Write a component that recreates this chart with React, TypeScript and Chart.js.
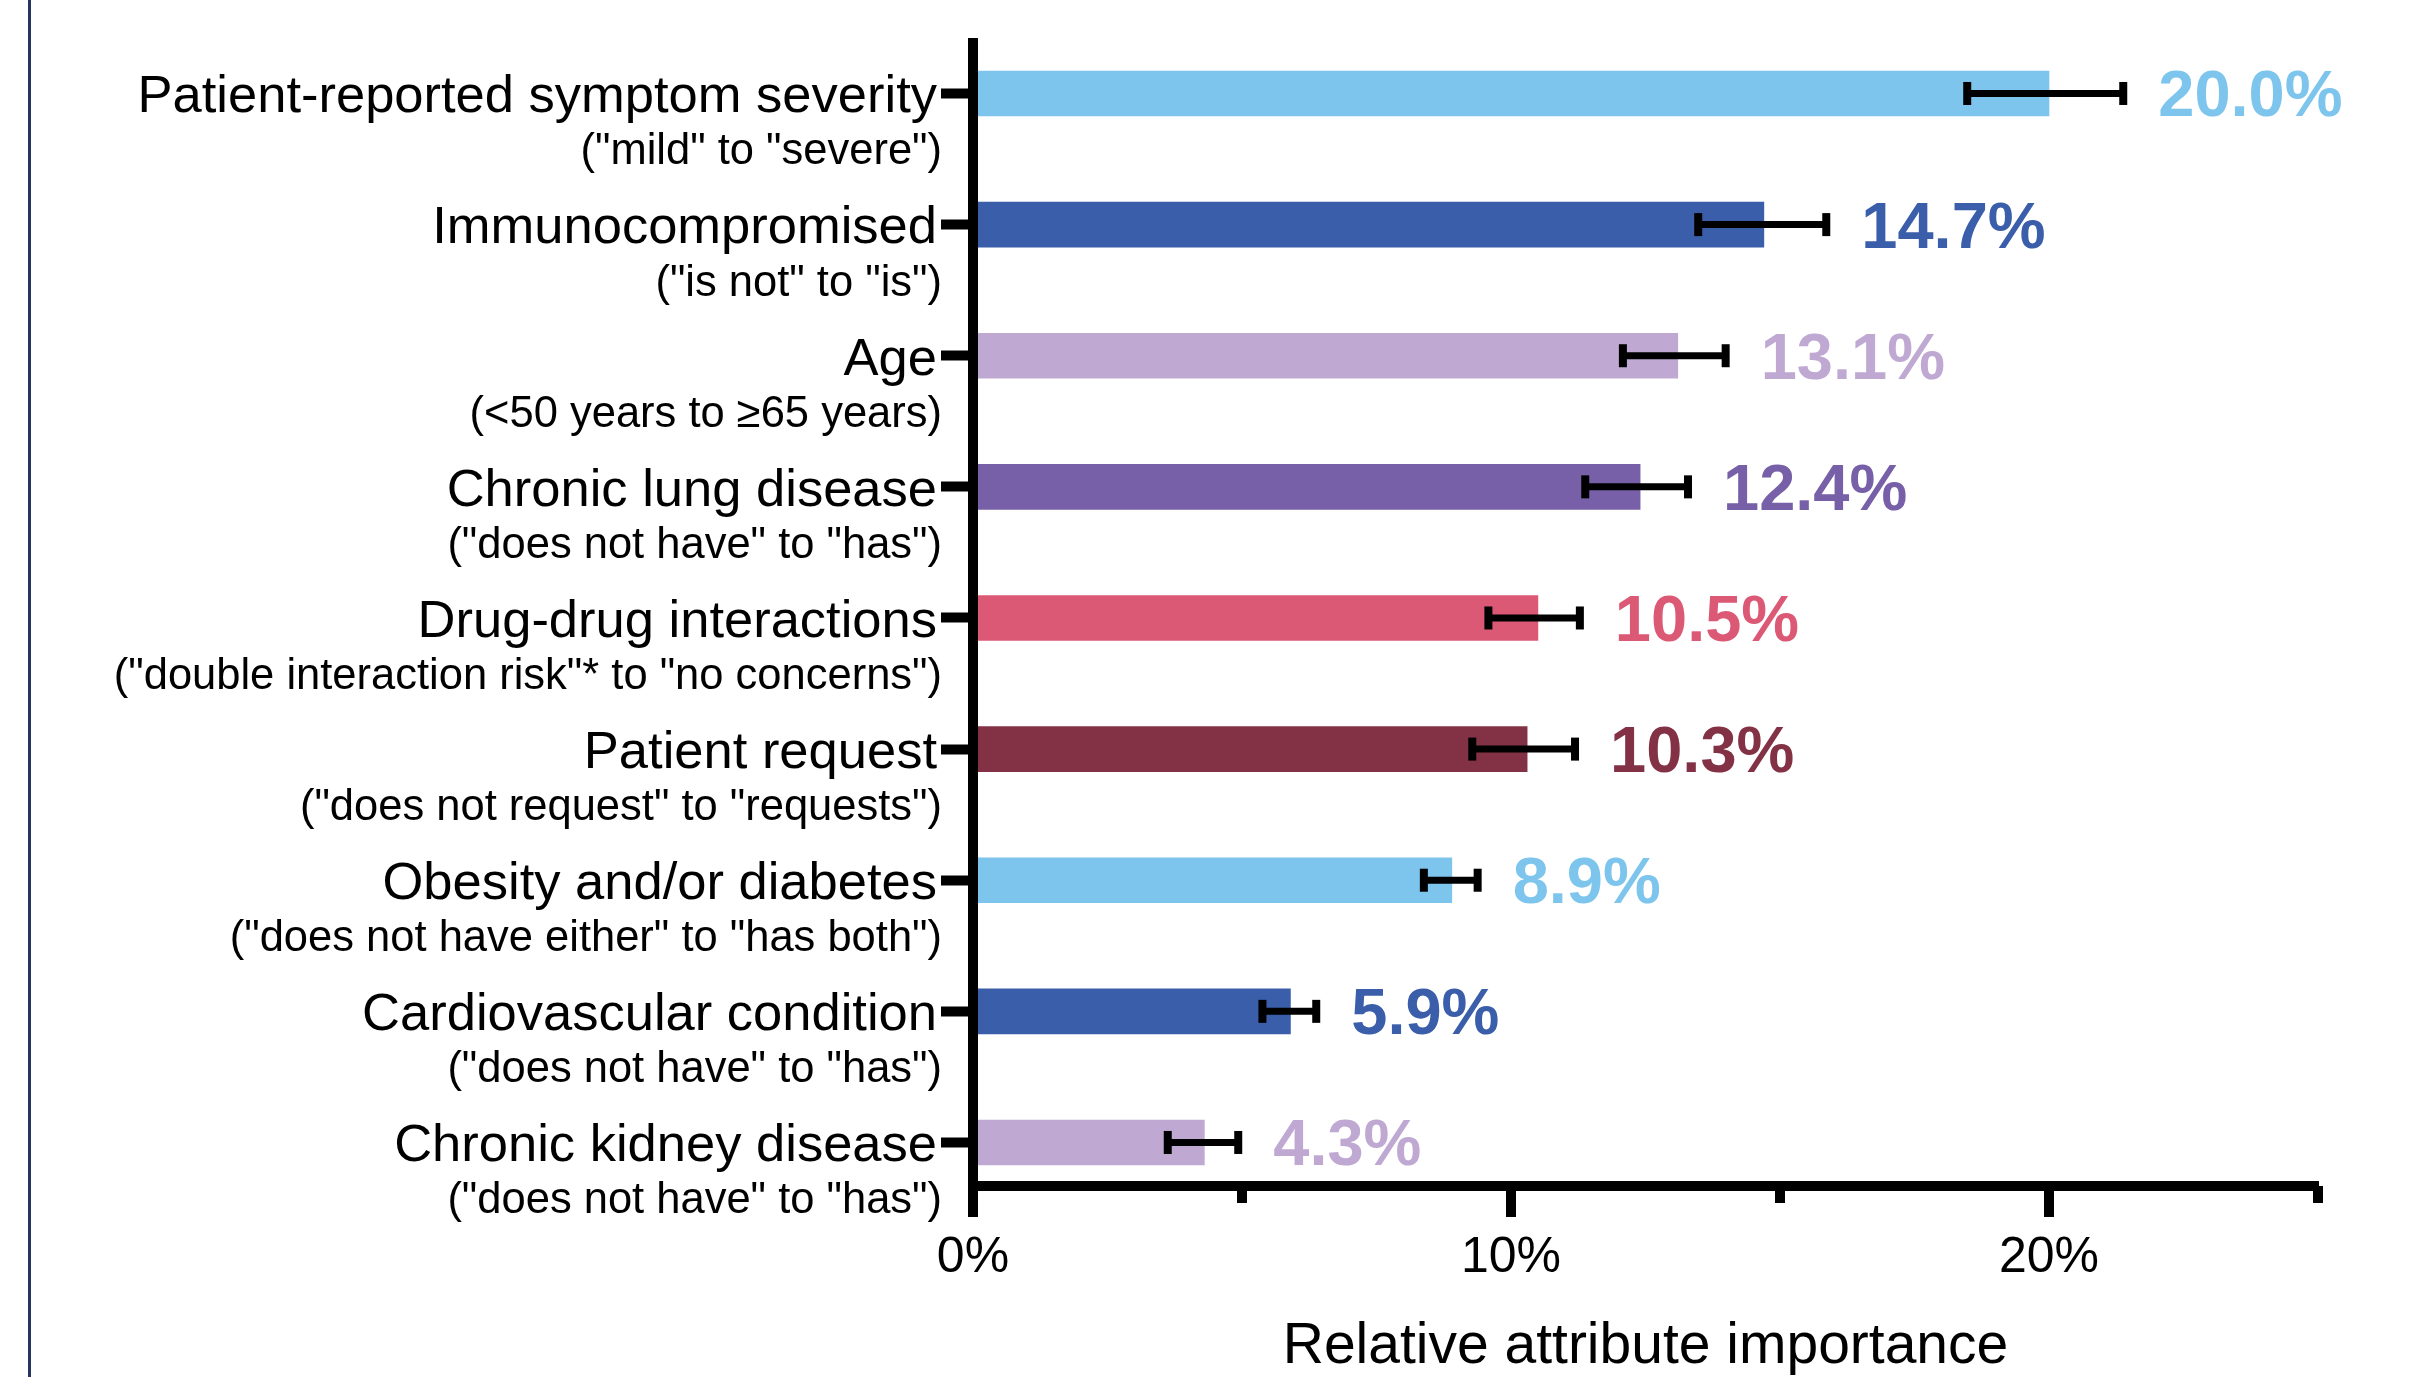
import React, { useEffect, useRef } from "react";
import { Chart, registerables } from "chart.js";

Chart.register(...registerables);

const categories = [
  "Patient-reported symptom severity",
  "Immunocompromised",
  "Age",
  "Chronic lung disease",
  "Drug-drug interactions",
  "Patient request",
  "Obesity and/or diabetes",
  "Cardiovascular condition",
  "Chronic kidney disease",
];

const subLabels = [
  '("mild" to "severe")',
  '("is not" to "is")',
  "(<50 years to \u226565 years)",
  '("does not have" to "has")',
  '("double interaction risk"* to "no concerns")',
  '("does not request" to "requests")',
  '("does not have either" to "has both")',
  '("does not have" to "has")',
  '("does not have" to "has")',
];

const values = [20.0, 14.7, 13.1, 12.4, 10.5, 10.3, 8.9, 5.9, 4.3];
const errLow = [18.48, 13.48, 12.08, 11.38, 9.58, 9.28, 8.38, 5.38, 3.62];
const errHigh = [21.38, 15.86, 13.99, 13.29, 11.28, 11.19, 9.38, 6.38, 4.93];

const barColors = [
  "#7DC5EC",
  "#3A5EA9",
  "#BFA9D3",
  "#7760A8",
  "#DC5976",
  "#833246",
  "#7DC5EC",
  "#3A5EA9",
  "#BFA9D3",
];

const xTickValues = [0, 5, 10, 15, 20, 25];
const X_MAX = 25;
const Y_MIN = -0.385;
const Y_MAX = 8.332;
const xTitle = "Relative attribute importance";

const FONT = '"Liberation Sans", Arial, Helvetica, sans-serif';

const overlayPlugin = {
  id: "overlay",
  afterDraw(chart: any) {
    const ctx = chart.ctx as CanvasRenderingContext2D;
    const xs = chart.scales.x;
    const ys = chart.scales.y;
    const area = chart.chartArea;
    ctx.save();

    // thin navy frame line at the far left
    ctx.fillStyle = "#26355F";
    ctx.fillRect(28, 0, 3, chart.height);

    // x-axis tick marks (major longer, minor shorter)
    ctx.fillStyle = "#000";
    xTickValues.forEach((v) => {
      const px = xs.getPixelForValue(v);
      const len = v % 10 === 0 ? 31 : 17;
      ctx.fillRect(px - 5, area.bottom, 10, len);
    });

    // error bars and value labels
    values.forEach((v, i) => {
      const y = ys.getPixelForValue(i);
      const x1 = xs.getPixelForValue(errLow[i]);
      const x2 = xs.getPixelForValue(errHigh[i]);
      ctx.strokeStyle = "#000";
      ctx.lineWidth = 7;
      ctx.beginPath();
      ctx.moveTo(x1, y);
      ctx.lineTo(x2, y);
      ctx.stroke();
      ctx.fillStyle = "#000";
      ctx.fillRect(x1 - 4, y - 11.5, 8, 23);
      ctx.fillRect(x2 - 4, y - 11.5, 8, 23);

      ctx.font = `bold 65px ${FONT}`;
      ctx.fillStyle = barColors[i];
      ctx.textAlign = "left";
      ctx.textBaseline = "alphabetic";
      ctx.fillText(v.toFixed(1) + "%", x2 + 35, y + 23);
    });

    // category labels (two lines)
    categories.forEach((c, i) => {
      const y = ys.getPixelForValue(i);
      ctx.fillStyle = "#000";
      ctx.textAlign = "right";
      ctx.textBaseline = "alphabetic";
      ctx.font = `52.5px ${FONT}`;
      ctx.fillText(c, area.left - 36, y + 18.8);
      ctx.font = `43.5px ${FONT}`;
      ctx.fillText(subLabels[i], area.left - 31, y + 71);
    });

    ctx.restore();
  },
};

export default function App() {
  const canvasRef = useRef<HTMLCanvasElement | null>(null);

  useEffect(() => {
    const canvas = canvasRef.current;
    if (!canvas) return;
    const chart = new Chart(canvas, {
      type: "bar",
      data: {
        datasets: [
          {
            data: values.map((v, i) => ({ x: v, y: i })),
            backgroundColor: barColors,
            borderWidth: 0,
            barThickness: 45,
          },
        ],
      },
      options: {
        indexAxis: "y",
        animation: false,
        responsive: false,
        devicePixelRatio: 1,
        layout: { padding: { top: 43, right: 114, left: 0, bottom: 0 } },
        plugins: {
          legend: { display: false },
          tooltip: { enabled: false },
        },
        scales: {
          x: {
            type: "linear",
            position: "bottom",
            min: 0,
            max: X_MAX,
            afterFit: (s: any) => {
              s.height = 191;
            },
            afterBuildTicks: (s: any) => {
              s.ticks = xTickValues.map((v) => ({ value: v }));
            },
            grid: { display: false, drawTicks: false },
            border: { display: true, color: "#000", width: 10, z: 1 },
            ticks: {
              autoSkip: false,
              maxRotation: 0,
              padding: 42,
              color: "#000",
              font: { family: FONT, size: 50 },
              callback: (v: any) => (Number(v) % 10 === 0 ? `${v}%` : ""),
            },
            title: {
              display: true,
              text: xTitle,
              color: "#000",
              font: { family: FONT, size: 57, lineHeight: 1 },
              padding: { top: 0, bottom: 1 },
            },
          },
          y: {
            type: "linear",
            position: "left",
            reverse: true,
            offset: false,
            bounds: "data",
            min: Y_MIN,
            max: Y_MAX,
            afterFit: (s: any) => {
              s.width = 973;
            },
            afterBuildTicks: (s: any) => {
              s.ticks = categories.map((_, i) => ({ value: i }));
            },
            grid: {
              display: true,
              offset: false,
              drawOnChartArea: false,
              drawTicks: true,
              tickLength: 32,
              tickWidth: 10,
              tickColor: "#000",
            },
            border: { display: true, color: "#000", width: 10, z: 1 },
            ticks: { display: false },
          },
        },
      },
      plugins: [overlayPlugin],
    } as any);
    return () => chart.destroy();
  }, []);

  return (
    <div
      style={{
        position: "fixed",
        left: 0,
        top: 0,
        width: 2432,
        height: 1377,
        background: "#fff",
      }}
    >
      <canvas
        ref={canvasRef}
        width={2432}
        height={1377}
        style={{ display: "block", width: 2432, height: 1377 }}
      />
    </div>
  );
}
